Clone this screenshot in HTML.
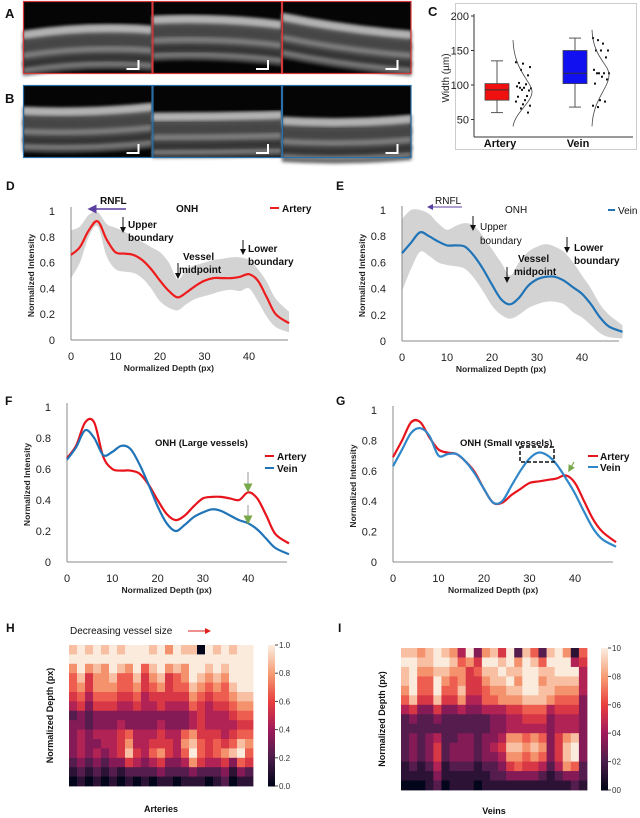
<!DOCTYPE html>
<html><head><meta charset="utf-8"><style>
html,body{margin:0;padding:0;background:#fff}
svg{display:block;font-family:"Liberation Sans",sans-serif}
</style></head><body>
<svg id="fig" width="640" height="818" viewBox="0 0 640 818" xmlns="http://www.w3.org/2000/svg">
<defs>
<filter id="blur1"><feGaussianBlur stdDeviation="1.5"/></filter>
<marker id="arrK" markerWidth="6" markerHeight="6" refX="3" refY="3" orient="auto"><path d="M0,0 L6,3 L0,6z" fill="#111"/></marker>
<marker id="arrP" markerWidth="6" markerHeight="6" refX="3" refY="3" orient="auto"><path d="M0,0 L6,3 L0,6z" fill="#5b3fa0"/></marker>
<marker id="arrR" markerWidth="6" markerHeight="6" refX="3" refY="3" orient="auto"><path d="M0,0 L6,3 L0,6z" fill="#e0201c"/></marker>
<marker id="arrG" markerWidth="6" markerHeight="6" refX="3" refY="3" orient="auto"><path d="M0,0 L6,3 L0,6z" fill="#78a84a"/></marker>
</defs>
<g id="oct"></g>
<g id="panelC"></g>
<g id="lines"></g>
<g id="heat"></g>
</svg>
<script>
// ---------- data ----------
const depthX = [0,2,4,6,8,10,12,14,16,18,20,22,24,26,28,30,32,34,36,38,40,42,44,46,49];
const dArtery = [0.66,0.72,0.85,0.92,0.78,0.68,0.67,0.66,0.62,0.55,0.46,0.38,0.33,0.37,0.42,0.46,0.48,0.48,0.48,0.49,0.51,0.46,0.33,0.20,0.13];
const dUpper  = [0.85,0.88,0.97,0.99,0.90,0.87,0.84,0.80,0.76,0.72,0.68,0.60,0.47,0.55,0.58,0.60,0.62,0.63,0.64,0.64,0.62,0.55,0.45,0.32,0.22];
const dLower  = [0.48,0.60,0.80,0.88,0.65,0.55,0.53,0.52,0.48,0.40,0.30,0.25,0.23,0.28,0.32,0.34,0.36,0.38,0.39,0.38,0.40,0.30,0.18,0.10,0.06];
const eVein   = [0.67,0.75,0.83,0.80,0.76,0.73,0.73,0.72,0.65,0.55,0.43,0.32,0.28,0.33,0.42,0.47,0.49,0.49,0.46,0.41,0.36,0.28,0.18,0.11,0.07];
const eUpper  = [0.93,1.00,1.00,0.97,0.90,0.85,0.88,0.90,0.88,0.80,0.70,0.60,0.50,0.60,0.68,0.72,0.74,0.72,0.68,0.60,0.50,0.40,0.28,0.20,0.12];
const eLower  = [0.38,0.55,0.68,0.65,0.60,0.58,0.57,0.55,0.48,0.38,0.27,0.20,0.17,0.20,0.25,0.28,0.30,0.30,0.28,0.22,0.18,0.12,0.06,0.03,0.02];
const fArtery = [0.67,0.75,0.90,0.90,0.68,0.60,0.59,0.59,0.57,0.50,0.40,0.31,0.27,0.30,0.36,0.41,0.42,0.42,0.41,0.40,0.45,0.41,0.30,0.18,0.12];
const fVein   = [0.66,0.74,0.85,0.80,0.69,0.71,0.75,0.73,0.63,0.50,0.36,0.25,0.20,0.24,0.29,0.32,0.34,0.33,0.30,0.27,0.25,0.21,0.15,0.09,0.05];
const gArtery = [0.69,0.80,0.92,0.92,0.82,0.74,0.72,0.71,0.66,0.59,0.48,0.39,0.39,0.44,0.48,0.52,0.53,0.54,0.55,0.57,0.52,0.40,0.28,0.20,0.13];
const gVein   = [0.63,0.74,0.85,0.88,0.83,0.70,0.71,0.71,0.66,0.58,0.48,0.39,0.40,0.50,0.60,0.68,0.72,0.70,0.64,0.55,0.45,0.33,0.22,0.15,0.10];
const xTicks = [0,10,20,30,40];
const yTicks = [0,0.2,0.4,0.6,0.8,1];
const yTickLabels = ["0","0.2","0.4","0.6","0.8","1"];
// box plot (C)
const boxGroups = ["Artery","Vein"];
const boxQ1 = [78,102];
const boxMed = [93,117];
const boxQ3 = [102,150];
const boxMin = [60,68];
const boxMax = [135,168];
const arteryDots = [133,131,126,122,114,103,101,98,96,95,93,92,96,84,83,78,76,72,70,66,60];
const veinDots = [168,165,160,150,150,150,140,122,117,117,117,117,112,108,102,78,76,70,68];
const cTicks = [50,100,150,200];
// heatmaps: one string per depth row, digit = value*9
const heatH = [
"89898989998979880989899","99999999999999999999999","79787987968978799898999",
"68577866857856798787999","67577766756756687676899","56466655645555576566788",
"45355544544544465455677","23233333333333345444566","33233343333433345444455",
"34344456444544675554566","34334457445554786565687","34343458546754696567896",
"23232335434533475445365","12121212222322232223132","01010101010110111012011"];
const heatI = [
"88789874937859286289716","99889986759989798699945","89778877568898899889994",
"89669767557889799788884","79669668556778899887774","68558557446677788876663",
"45335334334445566645553","23223222222334455534443","22222222222334444434443",
"23234223323347767635783","23235233323458878735893","23235233323347767635893",
"12124122212235655424762","11113111111223333212332","00012011101111111111121"];
const cbTicks = [0,0.2,0.4,0.6,0.8,1.0];
const cbLabelsH = ["0.0","0.2","0.4","0.6","0.8","1.0"];
const cbLabelsI = ["00","02","04","06","08","10"];

// ---------- helpers ----------
const NS="http://www.w3.org/2000/svg";
function mk(tag,attrs,parent,text){const e=document.createElementNS(NS,tag);for(const k in attrs)e.setAttribute(k,attrs[k]);if(text!==undefined)e.textContent=text;parent.appendChild(e);return e;}
function smooth(pts){let d="M"+pts[0][0].toFixed(1)+","+pts[0][1].toFixed(1);
 for(let i=0;i<pts.length-1;i++){const p0=pts[Math.max(0,i-1)],p1=pts[i],p2=pts[i+1],p3=pts[Math.min(pts.length-1,i+2)];
 const c1=[p1[0]+(p2[0]-p0[0])/6,p1[1]+(p2[1]-p0[1])/6],c2=[p2[0]-(p3[0]-p1[0])/6,p2[1]-(p3[1]-p1[1])/6];
 d+=" C"+c1[0].toFixed(1)+","+c1[1].toFixed(1)+" "+c2[0].toFixed(1)+","+c2[1].toFixed(1)+" "+p2[0].toFixed(1)+","+p2[1].toFixed(1);}return d;}
function lbl(parent,x,y,t,size,weight,anchor,fill,name){const e=mk("text",{x:x,y:y,"font-size":size,"font-weight":weight||"normal","text-anchor":anchor||"start",fill:fill||"#111"},parent,t);
 
 return e;}

// ---------- OCT images ----------
const oct=document.getElementById("oct");
lbl(oct,5,18,"A",13,"bold","start","#111","panel-label-a");
lbl(oct,5,103,"B",13,"bold","start","#111","panel-label-b");
const octRows=[{y:1,h:73,c:"#d8383a",tops:[[30,20,25],[15,12,20],[12,25,30]]},{y:85,h:73,c:"#2a6fa8",tops:[[22,25,18],[28,28,26],[32,36,30]]}];
octRows.forEach((r,ri)=>{for(let k=0;k<3;k++){const x=23+k*129.5,w=129.5;const g=mk("g",{},oct);
 
 
 mk("rect",{x:x,y:r.y,width:w,height:r.h,fill:"#050505"},g);
 const t=r.tops[k];const cy=(i)=>r.y+t[i];
 const band=(off,th,col,op)=>{mk("path",{d:`M${x},${cy(0)+off} Q${x+w/2},${cy(1)+off} ${x+w},${cy(2)+off} L${x+w},${cy(2)+off+th} Q${x+w/2},${cy(1)+off+th} ${x},${cy(0)+off+th}Z`,fill:col,opacity:op,filter:"url(#blur1)"},g);};
 band(0,45,"#5a5a5a",0.9);band(0,8,"#bdbdbd",0.9);band(12,8,"#444",0.9);band(22,5,"#8a8a8a",0.8);band(30,6,"#333",0.9);band(38,3,"#999",0.7);
 mk("path",{d:`M${x+w-14},${r.y+r.h-14} V${r.y+r.h-5} H${x+w-26}`,stroke:"#fff","stroke-width":2,fill:"none"},g);
 mk("rect",{x:x+0.5,y:r.y+0.5,width:w-1,height:r.h-1,fill:"none",stroke:r.c,"stroke-width":1.2},g);}});

// ---------- Panel C ----------
const pc=document.getElementById("panelC");
mk("rect",{x:455.5,y:3.5,width:181,height:146,fill:"none",stroke:"#ccc","stroke-width":1},pc);
lbl(pc,428,16,"C",13,"bold","start","#111","panel-label-c");
const cy0=137,cX0=474,cYv=v=>16+(200-v)*0.69;
mk("line",{x1:cX0,y1:14,x2:cX0,y2:cy0,stroke:"#333"},pc);
mk("line",{x1:cX0,y1:cy0,x2:633,y2:cy0,stroke:"#333"},pc);
cTicks.forEach(v=>{mk("line",{x1:cX0-3,y1:cYv(v),x2:cX0,y2:cYv(v),stroke:"#333"},pc);lbl(pc,cX0-5,cYv(v)+4,String(v),11,"normal","end","#222","c-y-tick");});
const yt=lbl(pc,0,0,"Width (µm)",10,"normal","middle","#222","c-y-axis-title");yt.setAttribute("transform","translate(449,78) rotate(-90)");
const boxCx=[497,575],boxCol=["#f01010","#1010f0"];
boxGroups.forEach((g,i)=>{const c=boxCx[i];
 mk("line",{x1:c,y1:cYv(boxMax[i]),x2:c,y2:cYv(boxMin[i]),stroke:"#555"},pc);
 mk("line",{x1:c-6,y1:cYv(boxMax[i]),x2:c+6,y2:cYv(boxMax[i]),stroke:"#555"},pc);
 mk("line",{x1:c-6,y1:cYv(boxMin[i]),x2:c+6,y2:cYv(boxMin[i]),stroke:"#555"},pc);
 const b=mk("rect",{x:c-12,y:cYv(boxQ3[i]),width:24,height:cYv(boxQ1[i])-cYv(boxQ3[i]),fill:boxCol[i],stroke:"#444","stroke-width":0.8},pc);
 
 
 mk("line",{x1:c-12,y1:cYv(boxMed[i]),x2:c+12,y2:cYv(boxMed[i]),stroke:"#333"},pc);
 lbl(pc,c+3,147,g,11,"bold","middle","#111","c-x-label");});
arteryDots.forEach((v,i)=>{const d=mk("rect",{x:515+((i*7)%16),y:cYv(v)-1,width:2,height:2,fill:"#111"},pc);
 
 });
veinDots.forEach((v,i)=>{const d=mk("rect",{x:592+((i*5)%17),y:cYv(v)-1,width:2,height:2,fill:"#111"},pc);
 
 });
mk("path",{d:`M513,${cYv(165)} C514,${cYv(120)} 532,${cYv(105)} 532,${cYv(90)} C532,${cYv(75)} 515,${cYv(60)} 513,${cYv(40)}`,fill:"none",stroke:"#444","stroke-width":0.8},pc);
mk("path",{d:`M592,${cYv(180)} C593,${cYv(140)} 609,${cYv(130)} 609,${cYv(115)} C609,${cYv(95)} 593,${cYv(80)} 592,${cYv(40)}`,fill:"none",stroke:"#444","stroke-width":0.8},pc);

// ---------- line charts ----------
const L=document.getElementById("lines");
function chart(o){const g=mk("g",{},L);
 
 
 const X=v=>o.x0+v*o.kx, Y=v=>o.y0-v*(o.y0-o.y1);
 if(o.band){const up=depthX.map((d,i)=>[X(d),Y(o.band[0][i])]);const lo=depthX.map((d,i)=>[X(d),Y(o.band[1][i])]).reverse();
  const p=mk("path",{d:smooth(up)+" L"+smooth(lo).slice(1)+" Z",fill:"#d3d3d3"},g);
  
  }
 mk("line",{x1:o.x0,y1:o.y1-4,x2:o.x0,y2:o.y0,stroke:"#888"},g);
 mk("line",{x1:o.x0,y1:o.y0,x2:o.xEnd,y2:o.y0,stroke:"#888"},g);
 yTicks.forEach((v,i)=>lbl(g,o.x0-16,Y(v)+4,yTickLabels[i],11,"normal","end","#222","y-tick"));
 xTicks.forEach(v=>lbl(g,X(v),o.y0+20,String(v),11,"normal","middle","#222","x-tick"));
 lbl(g,X(22),o.y0+31,"Normalized Depth (px)",8.5,"bold","middle","#222","x-axis-title");
 const yl=lbl(g,0,0,o.ytitle,8.5,"bold","middle","#222","y-axis-title");yl.setAttribute("transform",`translate(${o.x0-37},${(o.y0+o.y1)/2}) rotate(-90)`);
 o.series.forEach(s=>{const p=mk("path",{d:smooth(depthX.map((d,i)=>[X(d),Y(s.v[i])])),fill:"none",stroke:s.c,"stroke-width":2.2},g);
  
  });
 return g;}
chart({name:"chart-d",x0:71,kx:4.45,xEnd:288,y0:340,y1:211,ytitle:"Normalized Intensity",band:[dUpper,dLower],series:[{v:dArtery,c:"#ee1c1c",n:"artery-line"}]});
chart({name:"chart-e",x0:402,kx:4.5,xEnd:619,y0:341,y1:210,ytitle:"Normalized Intensity",band:[eUpper,eLower],series:[{v:eVein,c:"#1f73b7",n:"vein-line"}]});
chart({name:"chart-f",x0:67,kx:4.53,xEnd:287,y0:562,y1:407,ytitle:"Normalized Intensity",series:[{v:fArtery,c:"#e8141c",n:"artery-line"},{v:fVein,c:"#1f73b7",n:"vein-line"}]});
chart({name:"chart-g",x0:393,kx:4.55,xEnd:613,y0:562,y1:410,ytitle:"Normalized Intensity",series:[{v:gArtery,c:"#e8141c",n:"artery-line"},{v:gVein,c:"#2f86c8",n:"vein-line"}]});
// labels & annotations
lbl(L,6,190,"D",12,"bold","start","#111","panel-label-d");
lbl(L,336,190,"E",12,"bold","start","#111","panel-label-e");
lbl(L,5,405,"F",12,"bold","start","#111","panel-label-f");
lbl(L,336,405,"G",12,"bold","start","#111","panel-label-g");
// D
lbl(L,100,204,"RNFL",10,"bold","start","#111","rnfl-label");
mk("line",{x1:126,y1:209,x2:92,y2:209,stroke:"#5b3fa0","stroke-width":1.5,"marker-end":"url(#arrP)"},L);
lbl(L,176,212,"ONH",10,"bold","start","#111","onh-label");
mk("line",{x1:270,y1:208,x2:279,y2:208,stroke:"#ee1c1c","stroke-width":2},L);
lbl(L,282,212,"Artery",10,"bold","start","#111","legend-artery");
mk("line",{x1:123,y1:217,x2:123,y2:230,stroke:"#111","marker-end":"url(#arrK)"},L);
lbl(L,128,228,"Upper",10,"bold","start","#111","annotation");lbl(L,128,241,"boundary",10,"bold","start","#111","annotation");
mk("line",{x1:178,y1:263,x2:178,y2:276,stroke:"#111","marker-end":"url(#arrK)"},L);
lbl(L,183,260,"Vessel",10,"bold","start","#111","annotation");lbl(L,179,273,"midpoint",10,"bold","start","#111","annotation");
mk("line",{x1:243,y1:240,x2:243,y2:252,stroke:"#111","marker-end":"url(#arrK)"},L);
lbl(L,248,252,"Lower",10,"bold","start","#111","annotation");lbl(L,248,265,"boundary",10,"bold","start","#111","annotation");
// E
lbl(L,435,204,"RNFL",10,"normal","start","#111","rnfl-label");
mk("line",{x1:462,y1:207,x2:430,y2:207,stroke:"#5b3fa0","stroke-width":1,"marker-end":"url(#arrP)"},L);
lbl(L,505,213,"ONH",10,"normal","start","#111","onh-label");
mk("line",{x1:608,y1:210,x2:615,y2:210,stroke:"#1f73b7","stroke-width":2},L);
lbl(L,618,214,"Vein",10,"normal","start","#111","legend-vein");
mk("line",{x1:473,y1:216,x2:473,y2:228,stroke:"#111","marker-end":"url(#arrK)"},L);
lbl(L,480,230,"Upper",10,"normal","start","#111","annotation");lbl(L,480,244,"boundary",10,"normal","start","#111","annotation");
mk("line",{x1:507,y1:267,x2:507,y2:280,stroke:"#111","marker-end":"url(#arrK)"},L);
lbl(L,518,262,"Vessel",10,"bold","start","#111","annotation");lbl(L,514,275,"midpoint",10,"bold","start","#111","annotation");
mk("line",{x1:567,y1:237,x2:567,y2:250,stroke:"#111","marker-end":"url(#arrK)"},L);
lbl(L,574,251,"Lower",10,"bold","start","#111","annotation");lbl(L,574,264,"boundary",10,"bold","start","#111","annotation");
// F
lbl(L,155,446,"ONH (Large vessels)",9.5,"bold","start","#111","f-title");
mk("line",{x1:265,y1:456,x2:274,y2:456,stroke:"#e8141c","stroke-width":2},L);
lbl(L,277,460,"Artery",10,"bold","start","#111","legend-artery");
mk("line",{x1:265,y1:468,x2:274,y2:468,stroke:"#1f73b7","stroke-width":2},L);
lbl(L,277,472,"Vein",10,"bold","start","#111","legend-vein");
mk("line",{x1:248,y1:472,x2:248,y2:484,stroke:"#999"},L);
mk("line",{x1:248,y1:484,x2:248,y2:488,stroke:"#78a84a","stroke-width":1.5,"marker-end":"url(#arrG)"},L);
mk("line",{x1:248,y1:505,x2:248,y2:516,stroke:"#999"},L);
mk("line",{x1:248,y1:516,x2:248,y2:520,stroke:"#78a84a","stroke-width":1.5,"marker-end":"url(#arrG)"},L);
// G
lbl(L,460,446,"ONH (Small vessels)",9.5,"bold","start","#111","g-title");
mk("rect",{x:520,y:447,width:34,height:15,fill:"none",stroke:"#111","stroke-width":1.5,"stroke-dasharray":"4,2"},L);
mk("line",{x1:588,y1:456,x2:598,y2:456,stroke:"#e8141c","stroke-width":2},L);
lbl(L,600,460,"Artery",10,"bold","start","#111","legend-artery");
mk("line",{x1:588,y1:467,x2:598,y2:467,stroke:"#2f86c8","stroke-width":2},L);
lbl(L,600,471,"Vein",10,"bold","start","#111","legend-vein");
mk("line",{x1:574,y1:462,x2:570,y2:469,stroke:"#78a84a","stroke-width":1.2,"marker-end":"url(#arrG)"},L);

// ---------- heatmaps ----------
const H=document.getElementById("heat");
const stops=[[0,[3,5,26]],[0.2,[76,29,75]],[0.4,[161,26,91]],[0.6,[232,63,63]],[0.8,[246,156,115]],[1,[250,235,221]]];
function rocket(v){for(let i=0;i<stops.length-1;i++){const a=stops[i],b=stops[i+1];if(v<=b[0]){const t=(v-a[0])/(b[0]-a[0]);return "rgb("+a[1].map((c,k)=>Math.round(c+(b[1][k]-c)*t)).join(",")+")";}}return "rgb(250,235,221)";}
function heat(o){const g=mk("g",{},H);
 
 
 const rows=o.data.length,cols=o.data[0].length,cw=o.w/cols,rh=o.h/rows;
 o.data.forEach((row,r)=>{for(let c=0;c<cols;c++){const cell=mk("rect",{x:(o.x+c*cw).toFixed(2),y:(o.y+r*rh).toFixed(2),width:(cw+0.4).toFixed(2),height:(rh+0.4).toFixed(2),fill:rocket(+row[c]/9)},g);
  
  }});
 for(let i=0;i<60;i++){mk("rect",{x:o.cbx,y:o.y+i*o.h/60,width:7,height:o.h/60+0.5,fill:rocket(1-i/59)},g);}
 cbTicks.forEach((v,i)=>{const yy=o.y+o.h-v*o.h;mk("line",{x1:o.cbx+7,y1:yy,x2:o.cbx+10,y2:yy,stroke:"#444"},g);lbl(g,o.cbx+11,yy+3,o.cbl[i],8,"normal","start","#333","colorbar-tick");});
 lbl(g,o.x+o.w/2,o.xly,o.xl,9,"bold","middle","#111","heatmap-x-title");
 const yl=lbl(g,0,0,"Normalized Depth (px)",9,"bold","middle","#111","heatmap-y-title");yl.setAttribute("transform",`translate(${o.x-16},${o.y+o.h/2}) rotate(-90)`);}
heat({name:"heatmap-arteries",data:heatH,x:69,y:645,w:184,h:141,cbx:268,cbl:cbLabelsH,xl:"Arteries",xly:812});
heat({name:"heatmap-veins",data:heatI,x:401,y:648,w:186,h:142,cbx:601,cbl:cbLabelsI,xl:"Veins",xly:814});
lbl(H,6,632,"H",12,"bold","start","#111","panel-label-h");
lbl(H,338,632,"I",12,"bold","start","#111","panel-label-i");
lbl(H,70,634,"Decreasing vessel size",10,"normal","start","#111","heatmap-h-title");
mk("line",{x1:188,y1:631,x2:208,y2:631,stroke:"#e0201c","stroke-width":1,"marker-end":"url(#arrR)"},H);
</script>
</body></html>
